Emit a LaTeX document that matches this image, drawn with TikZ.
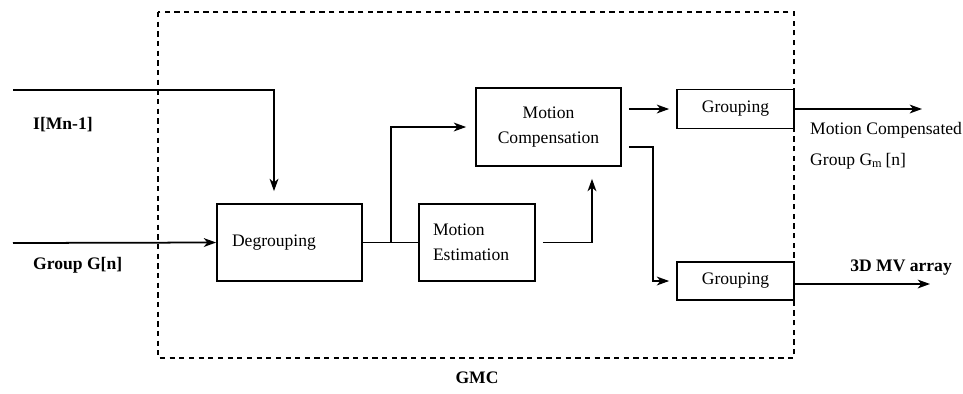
\documentclass[tikz,border=0pt]{standalone}
\usepackage{amsmath}
\usepackage{fontspec}
\setmainfont{Liberation Serif}
\usetikzlibrary{arrows.meta}

\begin{document}
\begin{tikzpicture}[x=0.02cm,y=-0.02cm]
	\tikzstyle{every node}=[font=\fontsize{10}{12}\selectfont];
	\tikzstyle{block}=[draw, line width=1pt, inner sep=0pt];
	\tikzstyle{flow}=[-{Stealth[length=7pt,width=5pt,inset=2pt]}, line width=1pt];
	\useasboundingbox (0,0) rectangle (963,393);

	% GMC boundary
	\draw [dash pattern=on 3pt off 2.5pt, line width=1pt] (158,12) rectangle (794,358);
	\node (gmc) at (477,378) {\bfseries GMC};

	\node [block, minimum width=2.9cm, minimum height=1.54cm, text width=2.3cm, align=left] (degroup) at (289.5,242.5) {Degrouping};
	\node [block, minimum width=2.32cm, minimum height=1.54cm, text width=1.76cm, align=left] (motest) at (477,242.5) {Motion\\[2pt]Estimation};
	\node [block, minimum width=2.9cm, minimum height=1.56cm, align=center] (motcomp) at (548.5,127) {Motion\\[2pt]Compensation};
	\node [block, minimum width=2.34cm, minimum height=0.78cm] (group1) at (735.5,109) {Grouping};
	\node [block, minimum width=2.34cm, minimum height=0.76cm] (group2) at (735.5,281) {Grouping};

	\coordinate (in1) at (13,90);
	\coordinate (in2) at (13,243);
	\coordinate (out1) at (922,109);
	\coordinate (out2) at (930,284);

	\draw [flow, shorten >=0.24cm] (in1) -| ([xshift=-0.31cm]degroup.north);
	\draw [flow] (in2) -- (degroup.west);
	\draw [line width=1pt] (degroup.east) -- (motest.west);
	\draw [flow, shorten >=0.18cm] ([xshift=0.56cm]degroup.east) |- (motcomp.west);
	\draw [flow, shorten <=0.14cm, shorten >=0.24cm] (motest.east) -| ([xshift=0.87cm]motcomp.south);
	\draw [flow, shorten <=0.14cm, shorten >=0.14cm] (motcomp.east |- group1.west) -- (group1.west);
	\draw [flow, shorten <=0.14cm, shorten >=0.14cm] ([yshift=-0.4cm]motcomp.east) -- ++(31,0) |- (group2.west);
	\draw [flow] (group1.east) -- (out1);
	\draw [flow] (group2.east |- out2) -- (out2);

	\node [anchor=west] (lblin1) at (27,125) {\bfseries I[Mn-1]};
	\node [anchor=west] (lblin2) at (27,265) {\bfseries Group G[n]};
	\node [anchor=west] (lblout1) at (804,130) {Motion Compensated};
	\node [anchor=west] (lblout1b) at (804,161) {Group G$_{\text{m}}$\,[n]};
	\node [anchor=east] (lblout2) at (958,268) {\bfseries 3D MV array};
\end{tikzpicture}
\end{document}
